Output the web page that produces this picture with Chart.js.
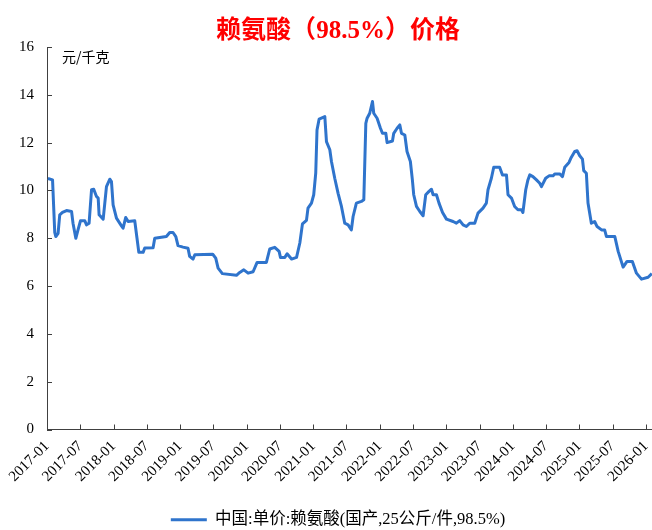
<!DOCTYPE html>
<html>
<head>
<meta charset="utf-8">
<script src="https://cdn.jsdelivr.net/npm/chart.js@4"></script>
<style>
  body { margin: 0; background: #fff; }
  #wrap { width: 652px; height: 530px; }
</style>
</head>
<body>
<div id="wrap"><canvas id="mainChart" width="652" height="530"></canvas></div>
<script>
// Datos
const titleText = '赖氨酸（98.5%）价格';
const unitLabel = '元/千克';
const seriesName = '中国:单价:赖氨酸(国产,25公斤/件,98.5%)';

const tickLabels = ['2017-01', '2017-07', '2018-01', '2018-07', '2019-01', '2019-07', '2020-01',
    '2020-07', '2021-01', '2021-07', '2022-01', '2022-07', '2023-01', '2023-07', '2024-01',
    '2024-07', '2025-01', '2025-07', '2026-01'];

const dates = [
    '2017-01-06', '2017-02-01', '2017-02-13', '2017-02-19', '2017-03-01', '2017-03-10', '2017-03-25', '2017-04-17',
    '2017-05-14', '2017-05-22', '2017-06-07', '2017-06-19', '2017-07-02', '2017-07-26', '2017-08-05', '2017-08-19',
    '2017-09-02', '2017-09-14', '2017-09-29', '2017-10-08', '2017-10-13', '2017-11-05', '2017-11-23', '2017-12-11',
    '2017-12-20', '2017-12-29', '2018-01-17', '2018-02-14', '2018-02-23', '2018-03-07', '2018-03-20', '2018-04-26',
    '2018-05-08', '2018-05-18', '2018-06-11', '2018-06-20', '2018-08-05', '2018-08-14', '2018-10-17', '2018-11-05',
    '2018-11-23', '2018-12-08', '2018-12-20', '2019-01-17', '2019-02-14', '2019-02-23', '2019-03-11', '2019-03-21',
    '2019-06-28', '2019-07-14', '2019-07-27', '2019-08-20', '2019-11-06', '2019-11-24', '2019-12-16', '2020-01-09',
    '2020-02-06', '2020-02-28', '2020-04-18', '2020-05-06', '2020-06-03', '2020-06-27', '2020-07-04', '2020-07-28',
    '2020-08-10', '2020-09-04', '2020-10-01', '2020-10-19', '2020-11-03', '2020-11-25', '2020-12-03', '2020-12-22',
    '2021-01-04', '2021-01-15', '2021-01-22', '2021-02-03', '2021-03-04', '2021-03-13', '2021-04-01', '2021-04-10',
    '2021-04-28', '2021-05-16', '2021-06-04', '2021-06-22', '2021-07-10', '2021-07-28', '2021-08-07', '2021-08-25',
    '2021-09-22', '2021-10-05', '2021-10-16', '2021-10-23', '2021-11-07', '2021-11-22', '2021-11-29', '2021-12-17',
    '2022-01-05', '2022-01-16', '2022-02-04', '2022-02-11', '2022-03-10', '2022-03-17', '2022-04-05', '2022-04-20',
    '2022-04-29', '2022-05-17', '2022-05-29', '2022-06-17', '2022-06-28', '2022-07-05', '2022-07-20', '2022-08-08',
    '2022-08-26', '2022-09-10', '2022-09-28', '2022-10-11', '2022-10-20', '2022-11-08', '2022-11-22', '2022-12-11',
    '2023-01-02', '2023-02-08', '2023-02-26', '2023-03-14', '2023-04-02', '2023-04-20', '2023-05-08', '2023-06-05',
    '2023-06-23', '2023-07-20', '2023-08-08', '2023-08-17', '2023-09-05', '2023-09-18', '2023-10-20', '2023-11-05',
    '2023-11-27', '2023-12-05', '2023-12-24', '2024-01-11', '2024-01-29', '2024-02-18', '2024-02-26', '2024-03-11',
    '2024-03-23', '2024-04-03', '2024-04-20', '2024-05-09', '2024-05-27', '2024-06-06', '2024-06-29', '2024-07-17',
    '2024-08-09', '2024-08-18', '2024-09-15', '2024-09-30', '2024-10-12', '2024-11-05', '2024-11-18', '2024-12-06',
    '2024-12-19', '2025-01-03', '2025-01-18', '2025-01-25', '2025-02-09', '2025-02-18', '2025-03-06', '2025-03-24',
    '2025-04-07', '2025-05-01', '2025-05-18', '2025-05-28', '2025-07-13', '2025-08-01', '2025-08-28', '2025-09-19',
    '2025-10-18', '2025-11-10', '2025-12-07', '2026-01-13', '2026-02-03'
];

const prices = [
    10.5, 10.44, 8.25, 8.07, 8.2, 8.98, 9.08, 9.16,
    9.12, 8.63, 8.0, 8.35, 8.73, 8.73, 8.56, 8.63,
    10.03, 10.05, 9.75, 9.68, 8.98, 8.8, 10.16, 10.47,
    10.37, 9.4, 8.84, 8.52, 8.42, 8.87, 8.7, 8.73,
    8.0, 7.41, 7.41, 7.59, 7.6, 8.0, 8.07, 8.24,
    8.24, 8.07, 7.69, 7.63, 7.58, 7.24, 7.13, 7.31,
    7.33, 7.17, 6.75, 6.52, 6.45, 6.57, 6.68, 6.54,
    6.6, 6.99, 6.99, 7.55, 7.62, 7.45, 7.2, 7.2,
    7.35, 7.13, 7.2, 7.8, 8.6, 8.75, 9.26, 9.47,
    9.82, 10.72, 12.53, 12.98, 13.09, 12.04, 11.7, 11.21,
    10.51, 9.88, 9.33, 8.63, 8.56, 8.35, 8.91, 9.47,
    9.54, 9.61, 12.81, 13.02, 13.23, 13.72, 13.23, 13.02,
    12.6, 12.39, 12.39, 12.0, 12.07, 12.39, 12.6, 12.74,
    12.39, 12.32, 11.63, 11.21, 10.44, 9.82, 9.33, 9.12,
    8.94, 9.82, 9.96, 10.05, 9.82, 9.82, 9.47, 9.08,
    8.8, 8.7, 8.63, 8.74, 8.56, 8.49, 8.63, 8.63,
    9.05, 9.26, 9.47, 10.03, 10.51, 10.97, 10.97, 10.65,
    10.65, 9.82, 9.68, 9.33, 9.19, 9.19, 9.08, 10.03,
    10.44, 10.65, 10.58, 10.44, 10.3, 10.16, 10.51, 10.61,
    10.61, 10.69, 10.69, 10.58, 10.97, 11.17, 11.39, 11.63,
    11.66, 11.45, 11.31, 10.83, 10.72, 9.47, 8.63, 8.7,
    8.49, 8.35, 8.35, 8.07, 8.07, 7.45, 6.79, 7.03,
    7.03, 6.54, 6.29, 6.37, 6.52
];

const yMin = 0;
const yMax = 16;
const yStep = 2;
const xEnd = '2026-02-04';

const lineColor = '#2F74CC';
const axisColor = '#404040';
const serif = "'Liberation Serif', 'Noto Sans CJK SC', serif";

// meses transcurridos desde 2017-01
function toMonths(s) {
    const [yy, mm, dd] = s.split('-').map(Number);
    return (yy - 2017) * 12 + (mm - 1) + (dd - 1) / 30.4;
}

const points = dates.map((d, i) => ({ x: toMonths(d), y: prices[i] }));

// Marcas de eje hacia dentro, unidad, y título/leyenda centrados como en el original
const innerTicks = {
    id: 'innerTicks',
    afterLayout(chart) {
        if (chart.titleBlock) chart.titleBlock.left = 24;
        if (chart.legend) chart.legend.left = 24;
    },
    afterDraw(chart) {
        const { ctx, chartArea, scales: { x, y } } = chart;
        ctx.save();
        ctx.strokeStyle = axisColor;
        ctx.lineWidth = 1;
        ctx.beginPath();
        y.ticks.forEach(t => {
            const py = Math.round(y.getPixelForValue(t.value)) + 0.5;
            ctx.moveTo(chartArea.left, py);
            ctx.lineTo(chartArea.left + 5, py);
        });
        x.ticks.forEach(t => {
            const px = Math.round(x.getPixelForValue(t.value)) + 0.5;
            ctx.moveTo(px, chartArea.bottom);
            ctx.lineTo(px, chartArea.bottom - 5);
        });
        ctx.stroke();
        ctx.fillStyle = '#000';
        ctx.font = "14px 'Noto Sans CJK SC'";
        ctx.textBaseline = 'middle';
        ctx.fillText(unitLabel, chartArea.left + 15, chartArea.top + 10);
        ctx.restore();
    }
};

const ctx = document.getElementById('mainChart').getContext('2d');
new Chart(ctx, {
    type: 'line',
    data: {
        datasets: [{
            label: seriesName,
            data: points,
            borderColor: lineColor,
            backgroundColor: lineColor,
            borderWidth: 3,
            pointRadius: 0,
            tension: 0,
            fill: false,
            borderJoinStyle: 'round'
        }]
    },
    options: {
        responsive: false,
        animation: false,
        devicePixelRatio: 1,
        layout: { padding: { left: 0, right: 0, top: 0, bottom: -8 } },
        plugins: {
            title: {
                display: true,
                text: titleText,
                color: '#FF0000',
                font: { size: 25, weight: 'bold', family: serif },
                padding: { top: 17, bottom: 0 }
            },
            legend: {
                position: 'bottom',
                labels: {
                    usePointStyle: true,
                    pointStyle: 'line',
                    pointStyleWidth: 36,
                    color: '#000',
                    padding: 10,
                    font: { size: 16.5, family: serif }
                }
            },
            tooltip: { enabled: false }
        },
        scales: {
            x: {
                type: 'linear',
                min: 0,
                max: toMonths(xEnd),
                grid: { display: false, drawTicks: false },
                border: { display: true, color: axisColor, width: 1 },
                afterBuildTicks: s => { s.ticks = tickLabels.map((_, i) => ({ value: i * 6 })); },
                afterFit: s => { s.height = 72; s.paddingLeft = 0; s.paddingRight = 0; },
                ticks: {
                    autoSkip: false,
                    maxRotation: 45,
                    minRotation: 45,
                    padding: 8,
                    color: '#000',
                    font: { size: 15, family: serif },
                    callback: (v) => tickLabels[Math.round(v / 6)]
                }
            },
            y: {
                min: yMin,
                max: yMax,
                grid: { display: false, drawTicks: false },
                border: { display: true, color: axisColor, width: 1 },
                afterFit: s => { s.width = 47; },
                ticks: {
                    stepSize: yStep,
                    padding: 13,
                    color: '#000',
                    font: { size: 15, family: serif }
                }
            }
        }
    },
    plugins: [innerTicks]
});
</script>
</body>
</html>
